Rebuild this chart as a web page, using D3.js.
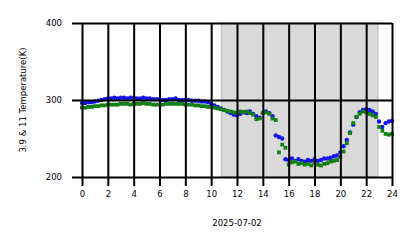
<!DOCTYPE html>
<html>
<head>
<meta charset="utf-8">
<script src="https://cdn.jsdelivr.net/npm/d3@7"></script>
<style>
  body { margin: 0; background: #fff; }
  text { font-family: "DejaVu Sans", sans-serif; fill: #000; }
</style>
</head>
<body>
<svg width="418" height="248"></svg>
<script>
var svg = d3.select('svg');
var margin = {top: 23, right: 26, bottom: 71, left: 82};
var width = 418 - margin.left - margin.right,
    height = 248 - margin.top - margin.bottom;

// hours of day, one sample per 15 min
var hours = d3.range(0, 24.01, 0.25);
// 11 um brightness temperature (K), blue
var t11 = [296, 296, 297, 297, 298, 299, 300, 301, 302, 302, 303, 302,
           303, 303, 302, 303, 303, 302, 302, 303, 302, 302, 301, 301,
           301, 300, 300, 301, 301, 302, 300, 300, 300, 300, 299, 299,
           299, 298, 298, 297, 295, 293, 291, 289, 287, 285, 283, 281,
           280, 282, 284, 283, 285, 282, 279, 277, 283, 285, 283, 279,
           254, 252, 250, 223, 222, 224, 221, 223, 221, 220, 222, 221,
           223, 221, 222, 224, 224, 225, 227, 228, 232, 240, 248, 258,
           268, 278, 284, 287, 288, 287, 285, 282, 272, 265, 270, 272, 273];
// 3.9 um brightness temperature (K), green
var t39 = [290, 290, 291, 291, 292, 292, 293, 293, 294, 294, 294, 294,
           295, 295, 295, 294, 295, 295, 295, 296, 295, 295, 294, 294,
           294, 294, 295, 295, 295, 295, 295, 295, 294, 294, 294, 293,
           293, 292, 292, 291, 291, 290, 289, 288, 287, 286, 285, 284,
           283, 285, 284, 285, 283, 281, 275, 276, 283, 284, 282, 276,
           274, 232, 242, 238, 216, 219, 220, 217, 218, 216, 217, 215,
           218, 216, 215, 217, 218, 220, 221, 222, 226, 233, 244, 257,
           270, 278, 282, 285, 284, 282, 280, 278, 265, 260, 256, 255, 256];
var night = [10.8, 22.9]; // shaded span (hours)
var xTicks = d3.range(0, 25, 2);
var yTicks = [200, 300, 400];
var xLabel = '2025-07-02';
var yLabel = '3.9 & 11 Temperature(K)';

var x = d3.scaleLinear().domain([0, 24]).range([0, width]);
var y = d3.scaleLinear().domain([200, 400]).range([height, 0]);

var g = svg.append('g')
    .attr('transform', 'translate(' + margin.left + ',' + margin.top + ')');

// night shading
g.append('rect')
    .attr('x', x(night[0]))
    .attr('y', 0)
    .attr('width', x(night[1]) - x(night[0]))
    .attr('height', height)
    .attr('fill', '#d9d9d9')
    .attr('stroke', '#c6c6c6')
    .attr('stroke-width', 1.5);

g.selectAll('circle.b')
    .data(hours).enter().append('circle')
    .attr('class', 'b')
    .attr('cx', function(d) { return x(d); })
    .attr('cy', function(d, i) { return y(t11[i]); })
    .attr('r', 2.2)
    .attr('fill', '#1515f0');

g.selectAll('rect.gr')
    .data(hours).enter().append('rect')
    .attr('class', 'gr')
    .attr('x', function(d) { return x(d) - 1.9; })
    .attr('y', function(d, i) { return y(t39[i]) - 1.9; })
    .attr('width', 3.8)
    .attr('height', 3.8)
    .attr('fill', '#128012');

// grid + ticks (drawn over the data like the original)
var xAxis = d3.axisBottom(x).tickValues(xTicks)
    .tickSize(-height - 9).tickSizeOuter(0).tickPadding(9);
var gx = g.append('g')
    .attr('transform', 'translate(0,' + (height + 9) + ')')
    .call(xAxis);
gx.select('.domain').remove();
gx.selectAll('line').attr('stroke', '#000').attr('stroke-width', 2);
gx.selectAll('text').attr('font-size', 8.5).attr('dy', '0.2em');

var yAxis = d3.axisLeft(y).tickValues(yTicks)
    .tickSize(-width - 10).tickSizeOuter(0).tickPadding(10);
var gy = g.append('g')
    .attr('transform', 'translate(-10,0)')
    .call(yAxis);
gy.select('.domain').remove();
gy.selectAll('line').attr('stroke', '#000').attr('stroke-width', 2);
gy.selectAll('text').attr('font-size', 8.5);

svg.append('text')
    .attr('x', margin.left + width / 2)
    .attr('y', 226)
    .attr('text-anchor', 'middle')
    .attr('font-size', 8.5)
    .text(xLabel);

svg.append('text')
    .attr('transform', 'translate(26,' + (margin.top + height / 2) + ') rotate(-90)')
    .attr('text-anchor', 'middle')
    .attr('font-size', 8.5)
    .text(yLabel);
</script>
</body>
</html>
